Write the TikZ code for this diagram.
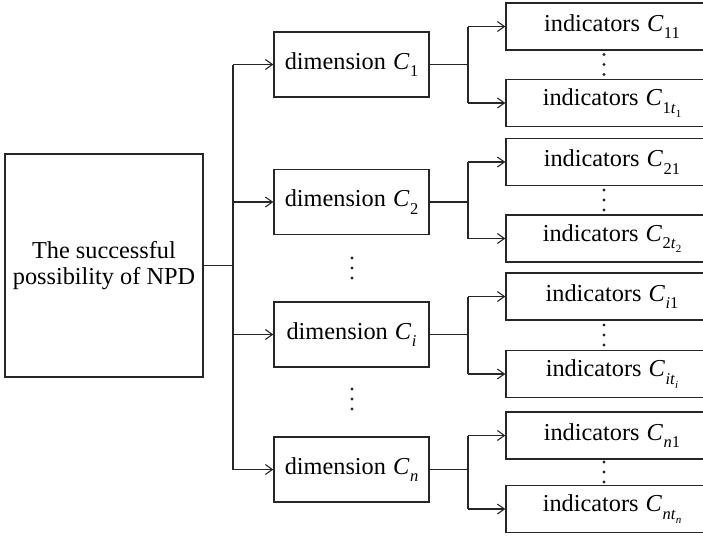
\documentclass[tikz,border=0pt]{standalone}
\usepackage{fontspec}
\setmainfont{Liberation Serif}
\usetikzlibrary{arrows.meta}
% italic C with an upright subscript; \subsub gives a second-level index
\newcommand{\Cvar}[1]{\kern1pt\textit{C}\kern0.5pt\raisebox{-0.3em}{\fontsize{16.5}{16.5}\selectfont #1}}
\newcommand{\subsub}[1]{\raisebox{-0.25em}{\fontsize{11}{11}\selectfont #1}}
\begin{document}
\begin{tikzpicture}[x=1pt,y=-1pt,
  box/.style={draw=black!85, line width=1.4pt, inner sep=0pt, align=center,
              font=\fontsize{24.3}{25.5}\selectfont},
  rootbox/.style={box, minimum width=198pt, minimum height=223pt},
  dimbox/.style={box, minimum width=155pt, minimum height=65pt},
  indbox/.style={box, minimum width=218pt, minimum height=47pt},
  link/.style={draw=black!85, line width=1.1pt},
  arr/.style={link, -{Straight Barb[length=7pt,width=10pt,line width=1.1pt]}},
  dotmark/.style={circle, fill=black!85, inner sep=0pt, minimum size=3.2pt}
]
\useasboundingbox (0,0) rectangle (703,536);
\begin{scope}
\clip (0,0) rectangle (703,536);

% root
\node[rootbox] (root) at (104,265.5) {The successful\\possibility of NPD};

% dimensions
\node[dimbox] (d1) at (351.5,64.5)  {dimension \Cvar{1}};
\node[dimbox] (d2) at (351.5,202)   {dimension \Cvar{2}};
\node[dimbox] (di) at (351.5,334.5) {dimension \Cvar{\textit{i}}};
\node[dimbox] (dn) at (351.5,469.5) {dimension \Cvar{\textit{n}}};

% indicators
\node[indbox] (a1) at (615,26.5)  {indicators \Cvar{11}\hspace{6pt}};
\node[indbox] (b1) at (615,103)   {indicators \Cvar{1\textit{t}\subsub{1}}\hspace{6pt}};
\node[indbox] (a2) at (615,162)   {indicators \Cvar{21}\hspace{6pt}};
\node[indbox] (b2) at (615,238.5) {indicators \Cvar{2\textit{t}\subsub{2}}\hspace{6pt}};
\node[indbox] (ai) at (615,296.5) {indicators \Cvar{\textit{i}1}\hspace{6pt}};
\node[indbox] (bi) at (615,374)   {indicators \Cvar{\textit{it}\subsub{\textit{i}}}\hspace{6pt}};
\node[indbox] (an) at (615,435.5) {indicators \Cvar{\textit{n}1}\hspace{6pt}};
\node[indbox] (bn) at (615,509)   {indicators \Cvar{\textit{nt}\subsub{\textit{n}}}\hspace{6pt}};

% root to dimensions
\coordinate (rbus) at (233,0);
\draw[link] (root.east) -- (root.east -| rbus);
\draw[link] (d1.west -| rbus) -- (dn.west -| rbus);
\foreach \d in {d1,d2,di,dn}
  \draw[arr] (\d.west -| rbus) -- (\d.west);

% dimensions to indicators
\coordinate (ibus) at (468,0);
\foreach \d/\a/\b in {d1/a1/b1, d2/a2/b2, di/ai/bi, dn/an/bn}{
  \draw[link] (\d.east) -- (\d.east -| ibus);
  \draw[link] (\a.west -| ibus) -- (\b.west -| ibus);
  \draw[arr] (\a.west -| ibus) -- (\a.west);
  \draw[arr] (\b.west -| ibus) -- (\b.west);
}

% vertical ellipses
\foreach \x/\y in {604/64.5, 604/200, 604/335, 604/472, 352/268, 352/399}
  \foreach \k in {-10,0,10}
    \node[dotmark] at (\x,\y+\k) {};
\end{scope}
\end{tikzpicture}
\end{document}
